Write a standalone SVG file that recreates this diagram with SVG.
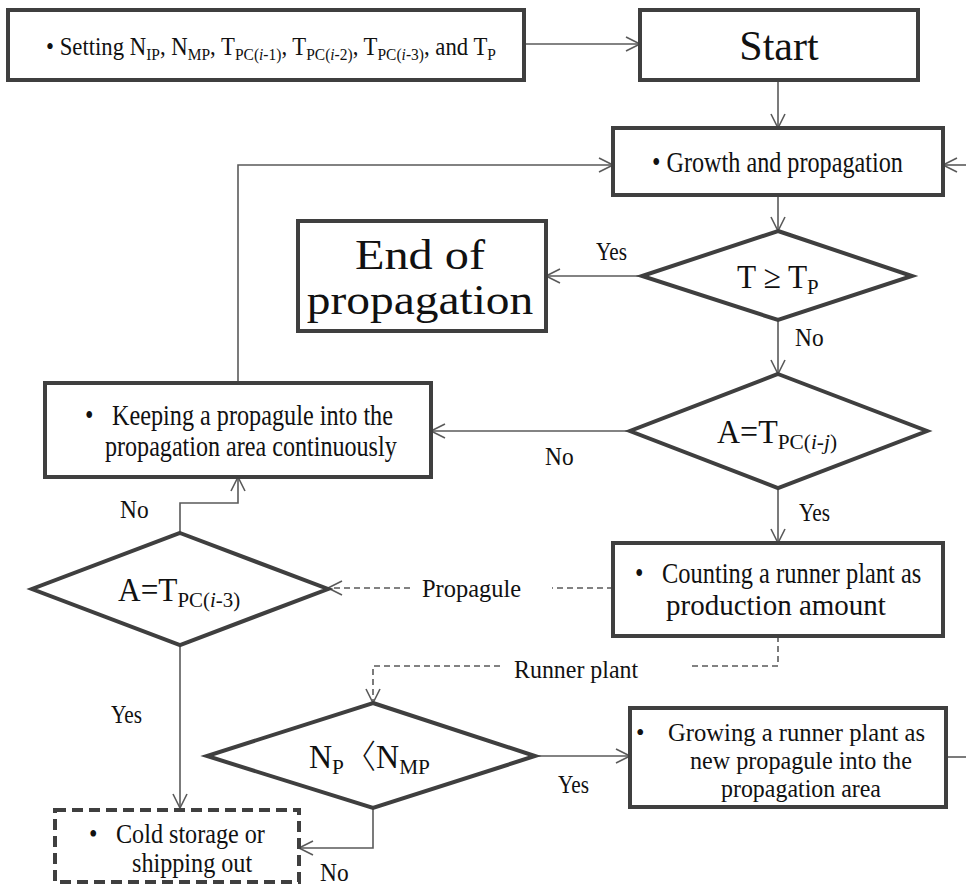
<svg xmlns="http://www.w3.org/2000/svg" width="966" height="887" viewBox="0 0 966 887" font-family="Liberation Serif, Times New Roman, serif">
<style>
.box{fill:#fff;stroke:#3f3f3f;stroke-width:4}
.dbox{fill:#fff;stroke:#3f3f3f;stroke-width:4;stroke-dasharray:11 6}
.ln{fill:none;stroke:#5a5a5a;stroke-width:1.6}
.dl{fill:none;stroke:#5a5a5a;stroke-width:1.6;stroke-dasharray:6 4}
text{font-family:"Liberation Serif","Times New Roman",serif;fill:#111}
.bt{font-size:29px}
.gt{font-size:26px}
.ct{font-size:27px}
.lb{font-size:26px}
.dt{font-size:33px}
.sb{font-size:22px}
</style>
<defs>
<marker id="ah" viewBox="-15 -9 17 18" refX="0" refY="0" markerWidth="17" markerHeight="18" markerUnits="userSpaceOnUse" orient="auto">
<path d="M-14,-7 L0,0 L-14,7" fill="none" stroke="#5a5a5a" stroke-width="1.6"/>
</marker>
</defs>

<g id="connectors">
<line class="ln" x1="524" y1="44" x2="640" y2="44" marker-end="url(#ah)"/>
<line class="ln" x1="778" y1="80" x2="778" y2="128" marker-end="url(#ah)"/>
<line class="ln" x1="778" y1="195" x2="778" y2="231" marker-end="url(#ah)"/>
<line class="ln" x1="642" y1="276" x2="546" y2="276" marker-end="url(#ah)"/>
<line class="ln" x1="778" y1="320" x2="778" y2="374" marker-end="url(#ah)"/>
<line class="ln" x1="630" y1="431" x2="431" y2="431" marker-end="url(#ah)"/>
<polyline class="ln" points="238,383 238,165 613,165" marker-end="url(#ah)"/>
<line class="ln" x1="966" y1="165" x2="943" y2="165" marker-end="url(#ah)"/>
<line class="ln" x1="778" y1="488" x2="778" y2="543" marker-end="url(#ah)"/>
<polyline class="ln" points="180,533 180,503 238,503 238,477" marker-end="url(#ah)"/>
<line class="dl" x1="613" y1="588" x2="552" y2="588"/>
<line class="dl" x1="410" y1="588" x2="328" y2="588" marker-end="url(#ah)"/>
<polyline class="dl" points="778,636 778,666 688,666"/>
<polyline class="dl" points="500,666 373,666 373,703" marker-end="url(#ah)"/>
<line class="ln" x1="180" y1="645" x2="180" y2="808" marker-end="url(#ah)"/>
<line class="ln" x1="535" y1="756" x2="630" y2="756" marker-end="url(#ah)"/>
<line class="ln" x1="946" y1="757" x2="966" y2="757"/>
<polyline class="ln" points="373,808 373,848 299,848" marker-end="url(#ah)"/>
<text class="lb" transform="translate(596,260) scale(0.82,1)">Yes</text>
<text class="lb" transform="translate(795,346) scale(0.9,1)">No</text>
<text class="lb" transform="translate(545,465) scale(0.9,1)">No</text>
<text class="lb" transform="translate(799,521) scale(0.82,1)">Yes</text>
<text class="lb" transform="translate(120,518) scale(0.9,1)">No</text>
<text class="lb" transform="translate(422,597) scale(0.94,1)">Propagule</text>
<text class="lb" transform="translate(514,678) scale(0.92,1)">Runner plant</text>
<text class="lb" transform="translate(111,723) scale(0.82,1)">Yes</text>
<text class="lb" transform="translate(558,793) scale(0.82,1)">Yes</text>
<text class="lb" transform="translate(320,881) scale(0.9,1)">No</text>
</g>

<g id="setting">
<rect class="box" x="8" y="10" width="516" height="70"/>
<text transform="translate(46,55) scale(0.91,1)" font-size="25">• Setting N<tspan font-size="17" dy="5">IP</tspan><tspan dy="-5">, N</tspan><tspan font-size="17" dy="5">MP</tspan><tspan dy="-5">, T</tspan><tspan font-size="17" dy="5">PC(<tspan font-style="italic">i</tspan>-1)</tspan><tspan dy="-5">, T</tspan><tspan font-size="17" dy="5">PC(<tspan font-style="italic">i</tspan>-2)</tspan><tspan dy="-5">, T</tspan><tspan font-size="17" dy="5">PC(<tspan font-style="italic">i</tspan>-3)</tspan><tspan dy="-5">, and T</tspan><tspan font-size="17" dy="5">P</tspan></text>
</g>

<g id="start">
<rect class="box" x="640" y="10" width="278" height="70"/>
<text x="779" y="60" font-size="42" text-anchor="middle">Start</text>
</g>

<g id="growth">
<rect class="box" x="613" y="128" width="330" height="67"/>
<text class="bt" transform="translate(652,172) scale(0.834,1)">• Growth and propagation</text>
</g>

<g id="decision-tp">
<polygon class="box" points="778,231 912,276 778,320 642,276"/>
<text class="dt" transform="translate(737,288) scale(0.95,1)">T ≥ T<tspan class="sb" dy="6">P</tspan></text>
</g>

<g id="end">
<rect class="box" x="298" y="221" width="248" height="110"/>
<text font-size="42" transform="translate(420,269) scale(1.15,1)" text-anchor="middle">End of</text>
<text font-size="42" transform="translate(420,314) scale(1.13,1)" text-anchor="middle">propagation</text>
</g>

<g id="decision-aij">
<polygon class="box" points="778,374 927,431 778,488 630,431"/>
<text class="dt" transform="translate(717,443) scale(0.97,1)">A=T<tspan class="sb" dy="6">PC(<tspan font-style="italic">i</tspan>-<tspan font-style="italic">j</tspan>)</tspan></text>
</g>

<g id="keeping">
<rect class="box" x="45" y="383" width="386" height="94"/>
<text class="bt" transform="translate(85,425) scale(0.833,1)">•</text>
<text class="bt" transform="translate(112,425) scale(0.835,1)">Keeping a propagule into the</text>
<text class="bt" transform="translate(105,456) scale(0.831,1)">propagation area continuously</text>
</g>

<g id="decision-ai3">
<polygon class="box" points="180,533 328,589 180,645 32,589"/>
<text class="dt" transform="translate(118,601) scale(0.95,1)">A=T<tspan class="sb" dy="6">PC(<tspan font-style="italic">i</tspan>-3)</tspan></text>
</g>

<g id="counting">
<rect class="box" x="613" y="543" width="330" height="93"/>
<text class="bt" transform="translate(635,583) scale(0.833,1)">•</text>
<text class="bt" transform="translate(662,583) scale(0.843,1)">Counting a runner plant as</text>
<text class="bt" transform="translate(666,615) scale(1,1)">production amount</text>
</g>

<g id="decision-np">
<polygon class="box" points="373,703 535,756 373,808 207,756"/>
<text class="dt" transform="translate(309,768) scale(0.97,1)">N<tspan class="sb" dy="6">P</tspan><tspan dy="-6" font-family="'Noto Sans CJK SC',sans-serif" font-weight="300">〈</tspan>N<tspan class="sb" dy="6">MP</tspan></text>
</g>

<g id="growing">
<rect class="box" x="630" y="708" width="316" height="99"/>
<text class="gt" transform="translate(636,741) scale(0.929,1)">•</text>
<text class="gt" transform="translate(668,741) scale(0.947,1)">Growing a runner plant as</text>
<text class="gt" transform="translate(690,769) scale(0.929,1)">new propagule into the</text>
<text class="gt" transform="translate(721,797) scale(0.92,1)">propagation area</text>
</g>

<g id="cold">
<rect class="dbox" x="55" y="810" width="244" height="72"/>
<text class="ct" transform="translate(89,843) scale(0.895,1)">•</text>
<text class="ct" transform="translate(116,843) scale(0.895,1)">Cold storage or</text>
<text class="ct" transform="translate(132,872) scale(0.895,1)">shipping out</text>
</g>
</svg>
